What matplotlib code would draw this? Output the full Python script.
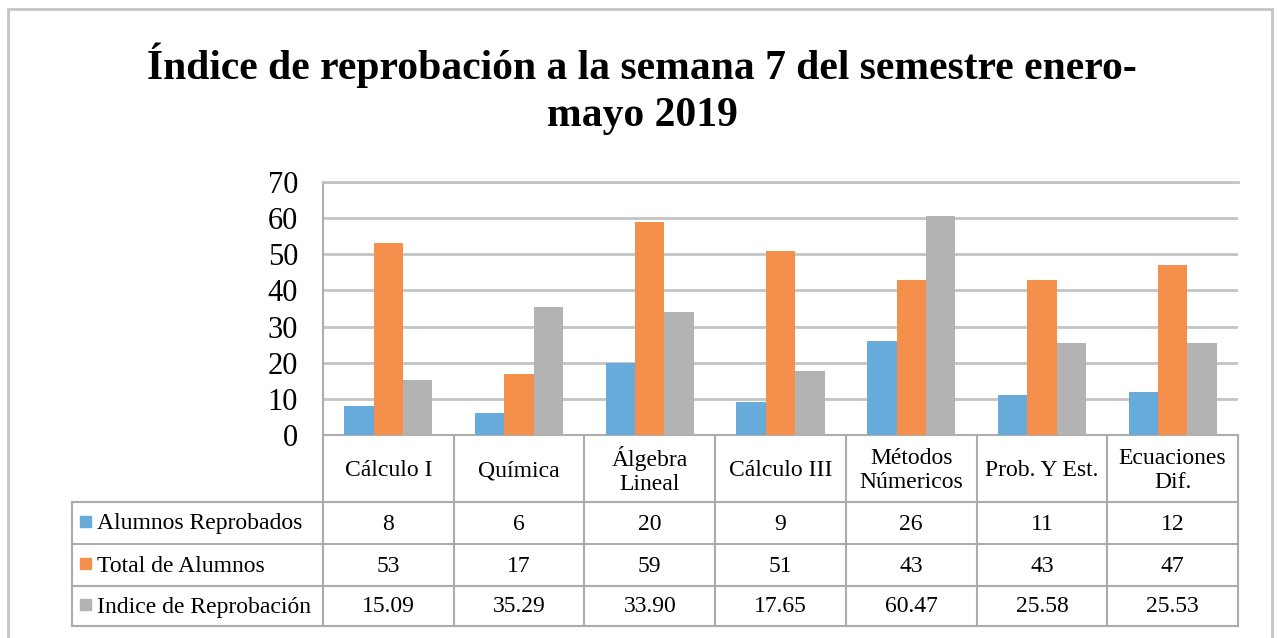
import numpy as np
import matplotlib.pyplot as plt
from matplotlib.patches import Rectangle

# Data
categories = ['Cálculo I', 'Química', 'Álgebra\nLineal', 'Cálculo III',
              'Métodos\nNúmericos', 'Prob. Y Est.', 'Ecuaciones\nDif.']
series_names = ['Alumnos Reprobados', 'Total de Alumnos', 'Indice de Reprobación']
reprobados = [8, 6, 20, 9, 26, 11, 12]
total = [53, 17, 59, 51, 43, 43, 47]
indice = [15.09, 35.29, 33.90, 17.65, 60.47, 25.58, 25.53]
value_labels = [
    ['8', '6', '20', '9', '26', '11', '12'],
    ['53', '17', '59', '51', '43', '43', '47'],
    ['15.09', '35.29', '33.90', '17.65', '60.47', '25.58', '25.53'],
]
colors = ['#67ABDB', '#F58F4C', '#B3B3B3']

plt.rcParams['font.family'] = ['Liberation Serif', 'DejaVu Serif']

W, H = 1277, 638
fig = plt.figure(figsize=(W / 100, H / 100), dpi=100)

def fx(px):
    return px / W

def fy(py):
    return 1 - py / H

#Outer frame
fig.patches.append(Rectangle((fx(8), fy(660)), fx(1272) - fx(8), fy(9) - fy(660),
                             transform=fig.transFigure, fill=False,
                             edgecolor='#C4C4C4', lw=2))

#Title
fig.text(0.503, fy(89), 'Índice de reprobación a la semana 7 del semestre enero-\nmayo 2019',
         ha='center', va='center', fontsize=30, fontweight='bold', linespacing=1.32)

#Bar chart
left, right, top, bottom = 323, 1238, 182, 435
ax = fig.add_axes([fx(left), fy(bottom), fx(right) - fx(left), fy(top) - fy(bottom)])
n = len(categories)
x = np.arange(n)
bw = 0.225
for k, vals in enumerate([reprobados, total, indice]):
    ax.bar(x + (k - 1) * bw, vals, width=bw, color=colors[k], zorder=3)

ax.set_xlim(-0.5, n - 0.5)
ax.set_ylim(0, 70)
ax.set_yticks(range(0, 71, 10))
ax.set_xticks([])
ax.tick_params(axis='y', length=0, pad=18, labelsize=22)
ax.yaxis.grid(True, color='#C4C4C4', lw=2, zorder=0)
ax.spines['right'].set_visible(False)
ax.spines['top'].set_color('#C4C4C4')
ax.spines['top'].set_linewidth(2)
ax.spines['left'].set_color('#AEAEAE')
ax.spines['left'].set_linewidth(1.5)
ax.spines['bottom'].set_color('#AEAEAE')
ax.spines['bottom'].set_linewidth(1.5)

#Data table
tleft, tbottom = 72, 626
rows = [435, 502, 544, 586, 626]
tab = fig.add_axes([fx(tleft), fy(tbottom), fx(right) - fx(tleft), fy(bottom) - fy(tbottom)])
tab.set_xlim(tleft, right)
tab.set_ylim(tbottom, bottom)
tab.axis('off')
lc = '#ABABAB'
colw = (right - left) / n
edges = [left + i * colw for i in range(n + 1)]
# horizontal lines
for r in rows[1:]:
    tab.plot([tleft, right], [r, r], color=lc, lw=1.5, clip_on=False)
# vertical lines
tab.plot([tleft, tleft], [rows[1], rows[-1]], color=lc, lw=1.5, clip_on=False)
for e in edges:
    tab.plot([e, e], [rows[0], rows[-1]], color=lc, lw=1.5, clip_on=False)

fs = 17
for i, cat in enumerate(categories):
    cx = (edges[i] + edges[i + 1]) / 2
    tab.text(cx, (rows[0] + rows[1]) / 2 + 2, cat, ha='center', va='center',
             fontsize=fs, linespacing=1.2)
    for r in range(3):
        tab.text(cx, (rows[r + 1] + rows[r + 2]) / 2 + 1, value_labels[r][i],
                 ha='center', va='center', fontsize=fs)

for r, name in enumerate(series_names):
    cy = (rows[r + 1] + rows[r + 2]) / 2
    tab.add_patch(Rectangle((80, cy - 7), 11, 11, color=colors[r], clip_on=False))
    tab.text(97, cy + 1, name, ha='left', va='center', fontsize=fs)

fig.savefig('out.png', dpi=100)
